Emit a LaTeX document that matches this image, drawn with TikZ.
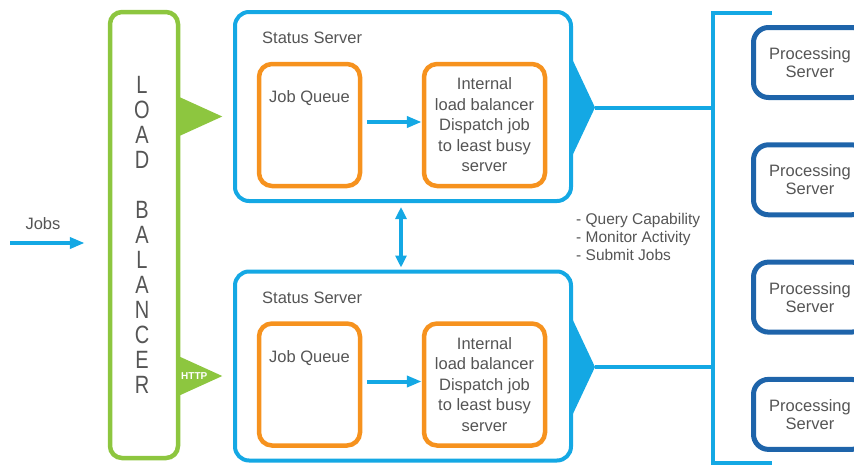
\documentclass[tikz,border=0pt]{standalone}
\usepackage{fontspec}
\setmainfont{Liberation Sans}
\newfontfamily\lbfont[FakeStretch=0.8]{Liberation Sans}
\usepackage{xcolor}
\usepackage{tikz}
\usetikzlibrary{positioning,arrows.meta,calc}
\definecolor{lbgreen}{RGB}{141,198,63}
\definecolor{srvblue}{RGB}{20,168,228}
\definecolor{qorange}{RGB}{246,146,30}
\definecolor{procblue}{RGB}{30,100,170}
\definecolor{txtgray}{RGB}{85,85,85}
\tikzset{
  txt/.style={text=txtgray, font=\fontsize{16.5}{20.5}\selectfont, align=center, inner sep=0pt},
  lbbox/.style={rounded corners=12pt, draw=lbgreen, line width=4.5pt, minimum width=68pt, minimum height=446pt},
  srvbox/.style={rounded corners=14pt, draw=srvblue, line width=4pt, minimum width=336pt, minimum height=189pt},
  qbox/.style={txt, rounded corners=13pt, draw=qorange, line width=4.5pt, minimum height=122pt},
  procbox/.style={txt, rounded corners=15pt, draw=procblue, line width=5pt, minimum width=113pt, minimum height=70pt, font=\fontsize{16.5}{18}\selectfont},
  arr/.style={-{Triangle[length=15pt,width=11pt]}, line width=4pt, draw=srvblue},
  dblarr/.style={{Triangle[length=12pt,width=11pt]}-{Triangle[length=12pt,width=11pt]}, line width=3.5pt, draw=srvblue},
  busline/.style={line width=4pt, draw=srvblue},
}

\begin{document}
\begin{tikzpicture}[x=1pt, y=-1pt]
    \useasboundingbox (0,0) rectangle (854,466);
    \clip (0,0) rectangle (854,466);
    % load balancer column
    \node[lbbox] (lb) at (144,235) {};
    \node[txt, font=\lbfont\fontsize{25}{25}\selectfont] (lbtxt) at ([xshift=-2pt]lb.center)
      {L\\O\\A\\D\\[25pt]B\\A\\L\\A\\N\\C\\E\\R};
    \coordinate (jobsin) at (10,243);
    \draw[arr] (jobsin) -- ([xshift=-23pt]lb.west |- jobsin);
    \node[txt] (jobs) at (43,224) {Jobs};
    % bus to the processing servers
    \coordinate (bt) at (713,13);
    \coordinate (bb) at (713,463);
    \coordinate (btend) at (772,13);
    \coordinate (bbend) at (772,463);
    \draw[busline] (btend) -- (bt) -- (bb) -- (bbend);
    % the two status servers
    \foreach \n/\y in {1/0,2/259.5}{
      \node[srvbox] (ss\n) at (403,106.5+\y) {};
      \node[txt, anchor=west] (sslbl\n) at ([xshift=29pt,yshift=-28pt]ss\n.north west) {Status Server};
      \node[qbox, minimum width=101pt] (jq\n) at (309.5,125+\y) {};
      \node[txt, below=29pt of jq\n.north] (jqlbl\n) {Job Queue};
      \node[qbox, minimum width=121pt, right=59.5pt of jq\n] (ib\n)
        {Internal\\load balancer\\Dispatch job\\to least busy\\server};
      \draw[arr] ([xshift=4.5pt,yshift=3pt]jq\n.east) -- ([yshift=3pt]ib\n.west);
      \coordinate (out\n) at ([xshift=22pt,yshift=-1pt]ss\n.east);
      \fill[srvblue] ([xshift=-2pt,yshift=50pt]ss\n.east) -- (out\n) -- ([xshift=-2pt,yshift=-52pt]ss\n.east) -- cycle;
      \draw[busline] (out\n) -- (out\n -| bt);
      \coordinate (in\n) at ([yshift=-10pt]ss\n.west -| lb.east);
      \fill[lbgreen] ([xshift=-2pt,yshift=20pt]in\n) -- ([xshift=42pt]in\n) -- ([xshift=-2pt,yshift=-20pt]in\n) -- cycle;
    }
    \node[font=\bfseries\fontsize{10}{12}\selectfont, text=white, inner sep=0pt] (http) at ([xshift=14pt]in2) {HTTP};
    \draw[dblarr] ([xshift=-2pt,yshift=-4pt]ss1.south) -- ([xshift=-2pt,yshift=2pt]ss2.north);
    \node[txt, align=left, anchor=north west, font=\fontsize{15.5}{18}\selectfont] (notes) at (576,213)
      {- Query Capability\\- Monitor Activity\\- Submit Jobs};
    % processing servers, cut by the right border
    \foreach \i in {0,...,3}{
      \node[procbox] (ps\i) at (810,62.5+117.3*\i) {Processing\\Server};
    }
\end{tikzpicture}
\end{document}
